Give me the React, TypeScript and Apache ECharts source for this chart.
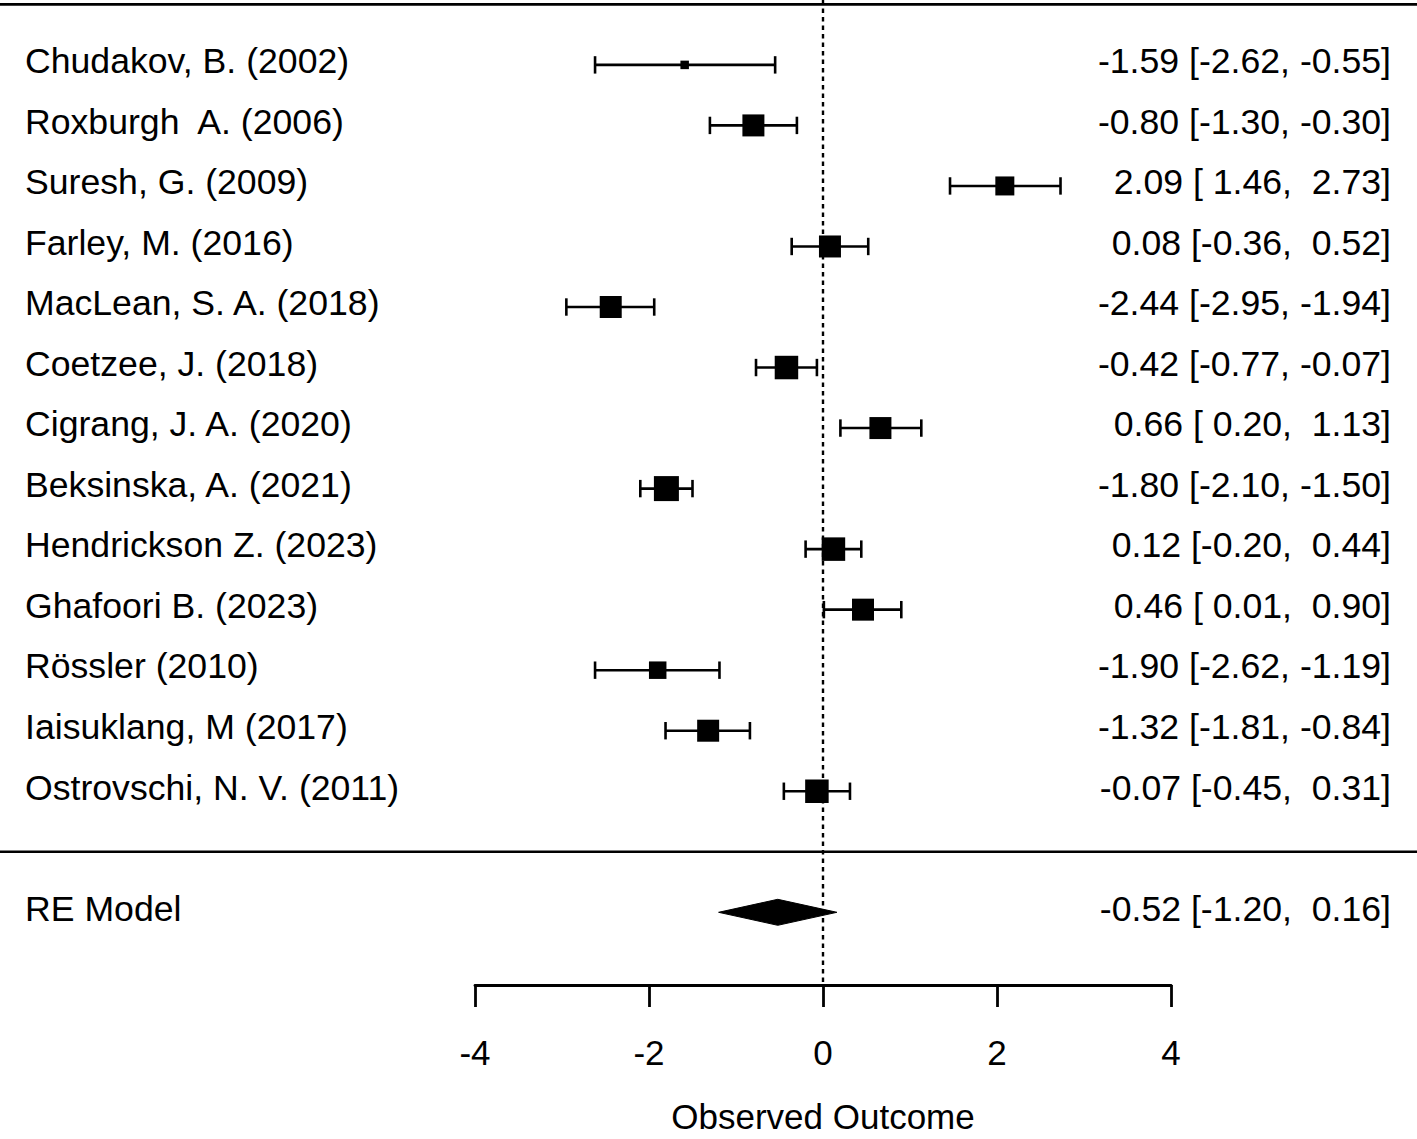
import React, { useEffect, useRef } from "react";
import * as echarts from "echarts";

const studies = [
  "Chudakov, B. (2002)",
  "Roxburgh\u00A0 A. (2006)",
  "Suresh, G. (2009)",
  "Farley, M. (2016)",
  "MacLean, S. A. (2018)",
  "Coetzee, J. (2018)",
  "Cigrang, J. A. (2020)",
  "Beksinska, A. (2021)",
  "Hendrickson Z. (2023)",
  "Ghafoori B. (2023)",
  "Rössler (2010)",
  "Iaisuklang, M (2017)",
  "Ostrovschi, N. V. (2011)",
];
const estimates = [-1.59, -0.8, 2.09, 0.08, -2.44, -0.42, 0.66, -1.8, 0.12, 0.46, -1.9, -1.32, -0.07];
const lowers = [-2.62, -1.3, 1.46, -0.36, -2.95, -0.77, 0.2, -2.1, -0.2, 0.01, -2.62, -1.81, -0.45];
const uppers = [-0.55, -0.3, 2.73, 0.52, -1.94, -0.07, 1.13, -1.5, 0.44, 0.9, -1.19, -0.84, 0.31];
const weights = [6.9, 7.8, 7.6, 7.8, 7.8, 7.9, 7.8, 8.0, 7.9, 7.8, 7.5, 7.8, 7.9];

const summaryLabel = "RE Model";
const summaryEstimate = -0.52;
const summaryLower = -1.2;
const summaryUpper = 0.16;

const xTicks = [-4, -2, 0, 2, 4];
const axisTitle = "Observed Outcome";

const FONT = '"Liberation Sans", Arial, Helvetica, sans-serif';
const NB = "\u00A0";

function fmt(v: number): string {
  let s = v.toFixed(2);
  while (s.length < 5) s = NB + s;
  return s;
}
function ciText(e: number, l: number, u: number): string {
  return `${fmt(e)} [${fmt(l)}, ${fmt(u)}]`;
}

const K = studies.length;
const Y_MIN = -2.201;
const Y_MAX = 14.072;

export default function App() {
  const ref = useRef<HTMLDivElement>(null);
  useEffect(() => {
    if (!ref.current) return;
    const chart = echarts.init(ref.current, undefined, { renderer: "svg" });
    const wMin = Math.min(...weights);
    const wMax = Math.max(...weights);
    const boxSize = (w: number) => 8.5 + ((w - wMin) / (wMax - wMin)) * 16.5;
    const TEXT_DY = -4;
    const textStyle = (text: string, align: string) => ({
      text,
      fill: "#000",
      fontSize: 34.5,
      fontFamily: FONT,
      align,
      verticalAlign: "middle",
    });
    const SX = 1.033;
    const lineStyle = { stroke: "#000", lineWidth: 2.6 };

    const option: any = {
      animation: false,
      backgroundColor: "#fff",
      grid: { left: 475, right: 246, top: 0, bottom: 146 },
      xAxis: {
        type: "value",
        min: xTicks[0],
        max: xTicks[xTicks.length - 1],
        interval: 2,
        splitLine: { show: false },
        axisLine: { show: true, onZero: false, lineStyle: { color: "#000", width: 2.8 } },
        axisTick: { show: true, inside: false, length: 22, lineStyle: { color: "#000", width: 2.8 } },
        axisLabel: { color: "#000", fontSize: 35, fontFamily: FONT, margin: 50 },
        name: axisTitle,
        nameLocation: "middle",
        nameGap: 114,
        nameTextStyle: { color: "#000", fontSize: 35, fontFamily: FONT },
      },
      yAxis: { type: "value", min: Y_MIN, max: Y_MAX, show: false },
      series: [
        {
          type: "custom",
          clip: false,
          z: 1,
          data: [[0, 0]],
          renderItem: (params: any, api: any) => {
            const top = api.coord([0, Y_MAX]);
            const bot = api.coord([0, Y_MIN]);
            return {
              type: "line",
              shape: { x1: top[0], y1: top[1], x2: bot[0], y2: bot[1] },
              style: { stroke: "#000", lineWidth: 2.4, lineDash: [4.5, 4] },
            };
          },
        },
        {
          type: "custom",
          clip: false,
          z: 2,
          data: [[0, K + 1], [0, 0]],
          renderItem: (params: any, api: any) => {
            const p = api.coord([0, api.value(1)]);
            return {
              type: "line",
              shape: { x1: 0, y1: p[1], x2: api.getWidth(), y2: p[1] },
              style: { stroke: "#000", lineWidth: 2.6 },
            };
          },
        },
        {
          type: "custom",
          clip: false,
          z: 3,
          data: studies.map((_, i) => [estimates[i], K - i]),
          renderItem: (params: any, api: any) => {
            const i = params.dataIndex;
            const y = K - i;
            const pL = api.coord([lowers[i], y]);
            const pU = api.coord([uppers[i], y]);
            const pE = api.coord([estimates[i], y]);
            const s = boxSize(weights[i]);
            const cap = 8.7;
            return {
              type: "group",
              children: [
                { type: "line", shape: { x1: pL[0], y1: pL[1], x2: pU[0], y2: pU[1] }, style: lineStyle },
                { type: "line", shape: { x1: pL[0], y1: pL[1] - cap, x2: pL[0], y2: pL[1] + cap }, style: lineStyle },
                { type: "line", shape: { x1: pU[0], y1: pU[1] - cap, x2: pU[0], y2: pU[1] + cap }, style: lineStyle },
                { type: "rect", shape: { x: pE[0] - s / 2, y: pE[1] - s / 2, width: s, height: s }, style: { fill: "#000" } },
                { type: "text", x: 25, y: pE[1] + TEXT_DY, scaleX: SX, style: textStyle(studies[i], "left") },
                { type: "text", x: 1391, y: pE[1] + TEXT_DY, scaleX: SX, style: textStyle(ciText(estimates[i], lowers[i], uppers[i]), "right") },
              ],
            };
          },
        },
        {
          type: "custom",
          clip: false,
          z: 3,
          data: [[summaryEstimate, -1]],
          renderItem: (params: any, api: any) => {
            const pL = api.coord([summaryLower, -1]);
            const pU = api.coord([summaryUpper, -1]);
            const pE = api.coord([summaryEstimate, -1]);
            const h = 13;
            return {
              type: "group",
              children: [
                {
                  type: "polygon",
                  shape: { points: [[pL[0], pL[1]], [pE[0], pE[1] - h], [pU[0], pU[1]], [pE[0], pE[1] + h]] },
                  style: { fill: "#000", stroke: "#000", lineWidth: 1 },
                },
                { type: "text", x: 25, y: pE[1] + TEXT_DY, scaleX: SX, style: textStyle(summaryLabel, "left") },
                { type: "text", x: 1391, y: pE[1] + TEXT_DY, scaleX: SX, style: textStyle(ciText(summaryEstimate, summaryLower, summaryUpper), "right") },
              ],
            };
          },
        },
      ],
    };
    chart.setOption(option);
    return () => chart.dispose();
  }, []);
  return (
    <div
      ref={ref}
      style={{ position: "absolute", left: 0, top: 0, width: 1417, height: 1139, background: "#fff" }}
    />
  );
}
